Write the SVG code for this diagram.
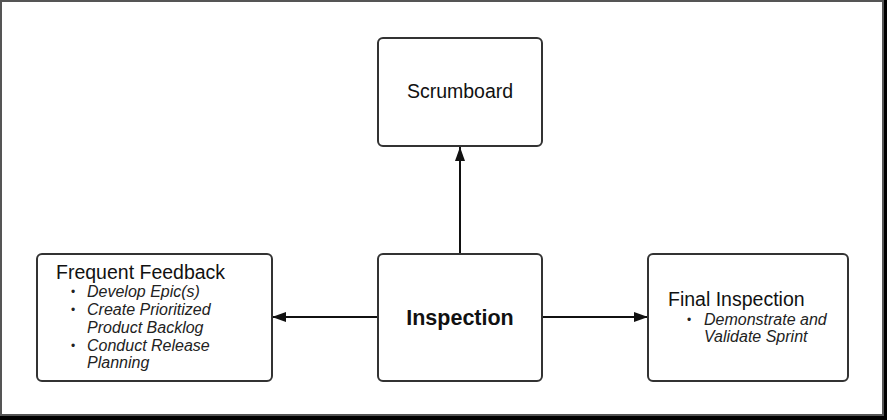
<svg xmlns="http://www.w3.org/2000/svg" width="887" height="420" viewBox="0 0 887 420">
<style>
.box{fill:#fff;stroke:#333;stroke-width:2}
.conn{stroke:#111;stroke-width:2;fill:none}
.t{font-family:"Liberation Sans",Arial,sans-serif;fill:#111}
.h{font-size:19.5px}
.b{font-size:16px;font-style:italic;fill:#222}
.bul{font-size:12px;fill:#222}
</style>
<defs>
<marker id="arr" markerUnits="userSpaceOnUse" markerWidth="14" markerHeight="10" refX="14" refY="5" orient="auto">
<path d="M0,0 L14,5 L0,10 Z" fill="#111"/>
</marker>
</defs>
<rect x="0" y="0" width="887" height="420" fill="#000"/>
<rect x="1" y="1" width="882" height="414" fill="#fff" stroke="#555" stroke-width="2"/>
<g id="connectors">
<line class="conn" x1="460" y1="254" x2="460" y2="147" marker-end="url(#arr)"/>
<line class="conn" x1="378" y1="317" x2="272" y2="317" marker-end="url(#arr)"/>
<line class="conn" x1="542" y1="317" x2="648" y2="317" marker-end="url(#arr)"/>
</g>
<g id="scrumboard">
<rect class="box" x="378" y="38" width="164" height="108" rx="5"/>
<text class="t h" x="460" y="98" text-anchor="middle">Scrumboard</text>
</g>
<g id="inspection">
<rect class="box" x="378" y="254" width="164" height="127" rx="5"/>
<text class="t" x="460" y="325" text-anchor="middle" font-size="21.5" font-weight="bold">Inspection</text>
</g>
<g id="frequent-feedback">
<rect class="box" x="37" y="254" width="235" height="127" rx="5"/>
<text class="t h" x="56" y="279">Frequent Feedback</text>
<text class="t bul" x="71" y="296">•</text>
<text class="t b" x="87" y="297">Develop Epic(s)</text>
<text class="t bul" x="71" y="314">•</text>
<text class="t b" x="87" y="315">Create Prioritized</text>
<text class="t b" x="87" y="333">Product Backlog</text>
<text class="t bul" x="71" y="350">•</text>
<text class="t b" x="87" y="351">Conduct Release</text>
<text class="t b" x="87" y="368">Planning</text>
</g>
<g id="final-inspection">
<rect class="box" x="648" y="254" width="200" height="127" rx="5"/>
<text class="t h" x="668" y="306">Final Inspection</text>
<text class="t bul" x="687" y="324">•</text>
<text class="t b" x="704" y="325">Demonstrate and</text>
<text class="t b" x="704" y="342">Validate Sprint</text>
</g>
</svg>
